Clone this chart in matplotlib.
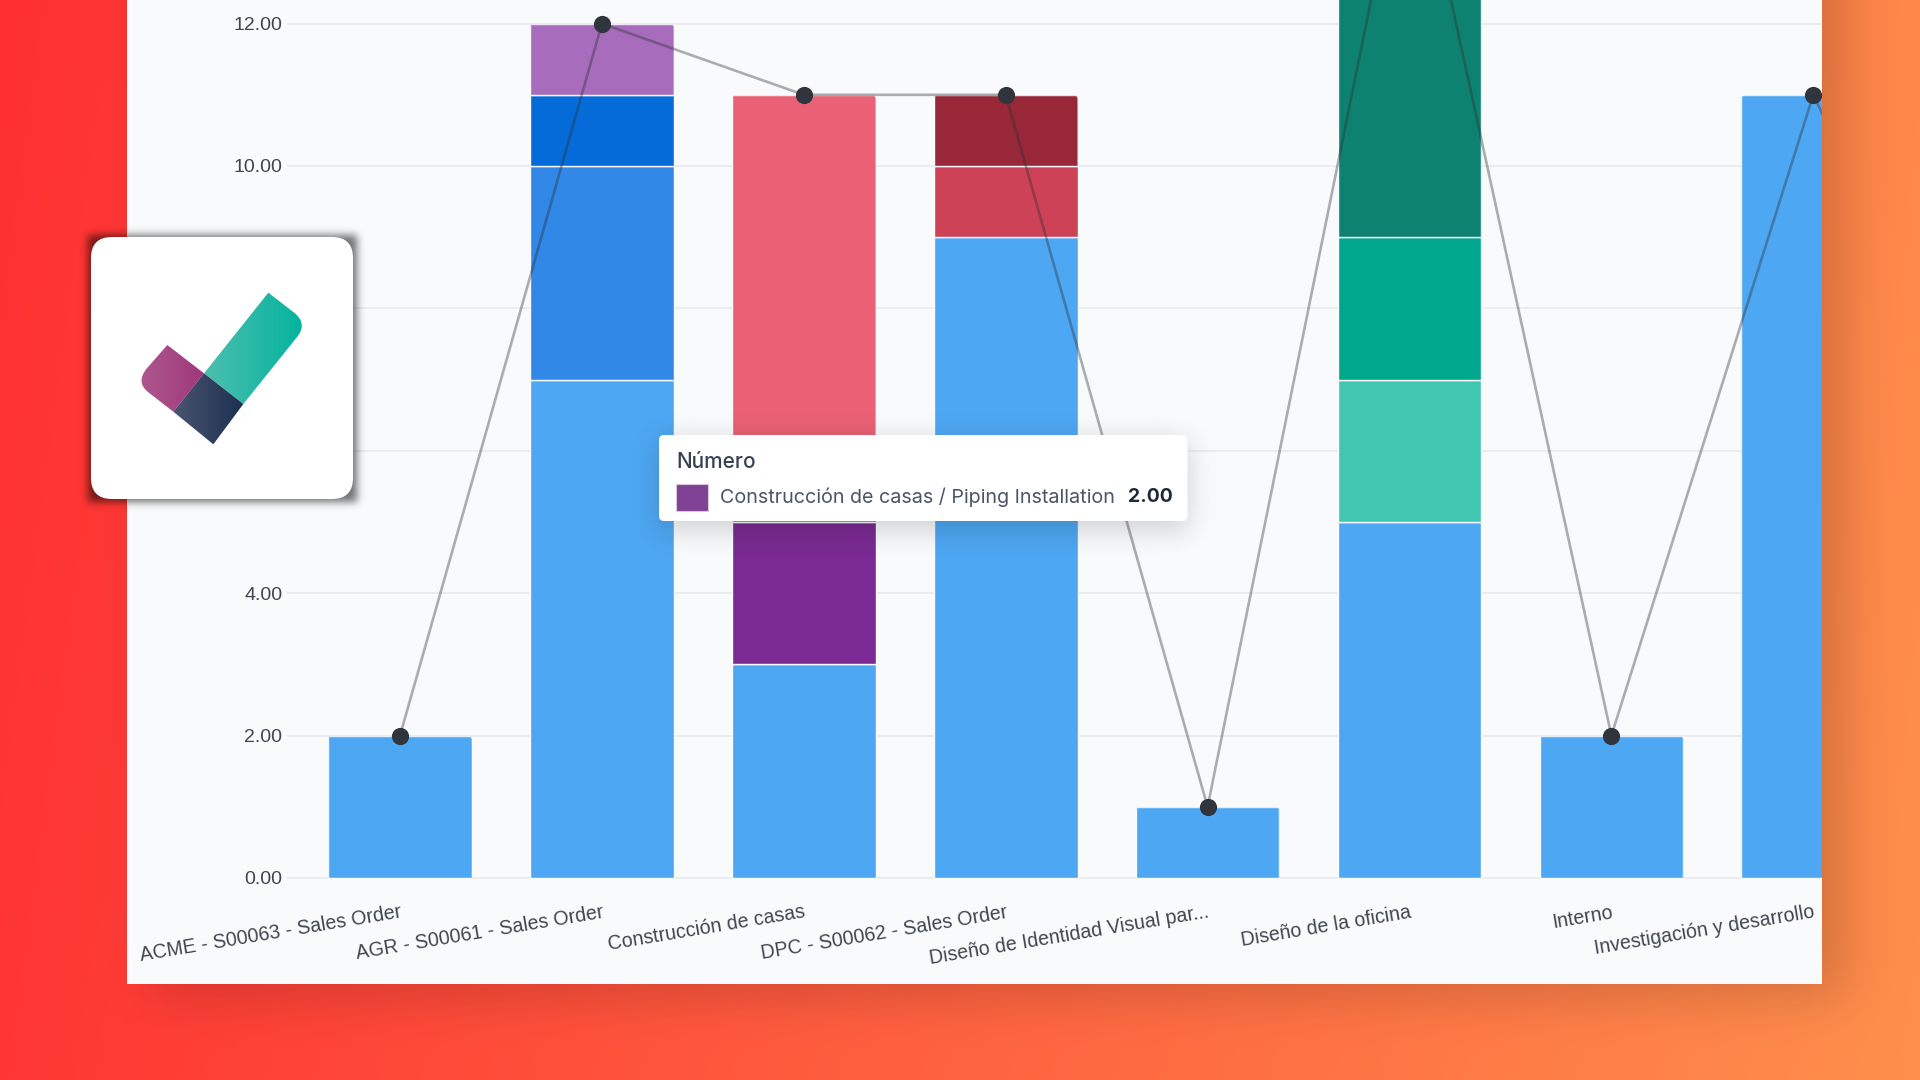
import math
import numpy as np
import matplotlib
matplotlib.use('Agg')
import matplotlib.pyplot as plt
from matplotlib.patches import FancyBboxPatch, Polygon, Rectangle
from matplotlib.path import Path
from matplotlib.patches import PathPatch

# --- data ---
categories = ['ACME - S00063 - Sales Order', 'AGR - S00061 - Sales Order', 'Construcción de casas',
              'DPC - S00062 - Sales Order', 'Diseño de Identidad Visual par...', 'Diseño de la oficina',
              'Interno', 'Investigación y desarrollo']
acme_values = [2]
agr_values = [7, 3, 1, 1]
casas_values = [3, 2, 6]
dpc_values = [9, 1, 1]
visual_values = [1]
oficina_values = [5, 2, 2, 6]
interno_values = [2]
investigacion_values = [11]
stacks = [acme_values, agr_values, casas_values, dpc_values, visual_values, oficina_values,
          interno_values, investigacion_values]
# last point belongs to a category cut off by the right edge of the panel
line_values = [2, 12, 11, 11, 1, 15, 2, 11, 5]
y_ticks = [0, 2, 4, 6, 8, 10, 12]

BLUE = ['#4EA7F2', '#3188E6', '#056BD9', '#A76DBC']
MAGENTA = ['#4EA7F2', '#7A2A92', '#EA6175']
RED = ['#4EA7F2', '#CE4257', '#982738']
GREEN = ['#4EA7F2', '#43C6B1', '#00A78D', '#0E8270']
stack_colors = [BLUE, BLUE, MAGENTA, RED, BLUE, GREEN, BLUE, BLUE]

W, H = 1920, 1080
PANEL = (127, 1822, 984)  # left, right, bottom in pixels
X0, X_STEP = 400, 201.9
Y0, Y_STEP = 878, 71.2
PANEL_COLOR = '#F9FAFC'
plt.rcParams['font.family'] = ['Liberation Sans', 'DejaVu Sans']


def erf_profile(coords, a, b, sigma):
    # analytic blur of a box along one axis
    erf = np.vectorize(math.erf)
    return 0.5 * (erf((coords - a) / (sigma * 2 ** 0.5)) - erf((coords - b) / (sigma * 2 ** 0.5)))


def box_shadow(x0, y0, x1, y1, sigma):
    xs, ys = np.arange(W) + 0.5, np.arange(H) + 0.5
    return np.outer(erf_profile(ys, y0, y1, sigma), erf_profile(xs, x0, x1, sigma))


def shadow_rgba(x0, y0, x1, y1, sigma, strength):
    img = np.zeros((H, W, 4))
    img[..., 3] = box_shadow(x0, y0, x1, y1, sigma) * strength
    return img


fig = plt.figure(figsize=(W / 100, H / 100), dpi=100)

# --- background gradient with the shadow of the panel ---
bg_ax = fig.add_axes([0, 0, 1, 1], zorder=0)
xx, yy = np.meshgrid(np.linspace(0, 1, W), np.linspace(0, 1, H))
t = np.clip((0.93 * xx + 0.07 * yy)[..., None], 0, 1)
start, end = np.array([255, 48, 50]) / 255, np.array([255, 143, 76]) / 255
bg = start * (1 - t) + end * t
panel_shade = box_shadow(PANEL[0] + 25, -200, PANEL[1] + 22, PANEL[2] + 12, 26) * 0.17
bg_ax.imshow(bg * (1 - panel_shade[..., None]), extent=(0, W, H, 0), aspect='auto')
bg_ax.add_patch(Rectangle((PANEL[0], -5), PANEL[1] - PANEL[0], PANEL[2] + 5, fc=PANEL_COLOR, ec='none'))
bg_ax.set_xlim(0, W)
bg_ax.set_ylim(H, 0)
bg_ax.axis('off')

# --- the chart itself ---
left, right, bottom = 287, PANEL[1], 888
ax = fig.add_axes([left / W, (H - bottom) / H, (right - left) / W, bottom / H], zorder=1)
ax.patch.set_alpha(0)
ax.set_xlim((left - X0) / X_STEP, (right - X0) / X_STEP)
ax.set_ylim((Y0 - bottom) / Y_STEP, Y0 / Y_STEP)
ax.grid(axis='y', color='#E6E8EC', linewidth=1.1)
ax.set_axisbelow(True)
for side in ax.spines.values():
    side.set_visible(False)

for i, (values, colors) in enumerate(zip(stacks, stack_colors)):
    base = 0
    for value, color in zip(values, colors):
        bar = ax.bar(i, value, bottom=base, width=0.712, color=color, edgecolor=PANEL_COLOR, linewidth=1.0)[0]
        base += value
    # small rounded corners at the top of each stack
    clip = FancyBboxPatch((i - 0.356, -1), 0.712, base + 0.99, boxstyle='round,pad=0,rounding_size=0.018',
                          mutation_aspect=X_STEP / Y_STEP, transform=ax.transData)
    bar.set_clip_path(clip)

ax.plot(range(len(line_values)), line_values, color='#2B2F36', alpha=0.38, linewidth=1.9, zorder=4)
ax.plot(range(len(line_values)), line_values, linestyle='none', marker='o', markersize=12.4,
        markerfacecolor='#2F343D', markeredgecolor='none', zorder=5)

ax.set_yticks(y_ticks)
ax.set_yticklabels([f'{v:.2f}' for v in y_ticks])
ax.set_xticks(range(len(categories)))
ax.set_xticklabels(categories)
ax.tick_params(axis='y', length=0, pad=3.5, labelsize=14, labelcolor='#40464F')
ax.tick_params(axis='x', length=0, pad=10.5, labelsize=14.15, labelcolor='#40464F')
plt.setp(ax.get_xticklabels(), rotation=9.5, ha='right', va='top', rotation_mode='anchor')

# --- tooltip and logo card on top ---
top = fig.add_axes([0, 0, 1, 1], zorder=2)
top.patch.set_alpha(0)
top.imshow(shadow_rgba(659, 441, 1188, 530, 14, 0.17), extent=(0, W, H, 0), aspect='auto', zorder=1)
top.imshow(shadow_rgba(88, 235, 357, 502, 4, 0.55), extent=(0, W, H, 0), aspect='auto', zorder=1)

tip = FancyBboxPatch((659, 435), 528.5, 86, boxstyle='round,pad=0,rounding_size=5', fc='white', ec='none', zorder=2)
top.add_patch(tip)
top.text(676, 462, 'Número', family='Inter', fontsize=15, fontweight='medium', color='#374151', va='center', zorder=3)
top.add_patch(Rectangle((676, 484), 32, 27, fc='#7F4295', ec='#D9C6E0', lw=0.8, zorder=3))
top.text(720, 497.5, 'Construcción de casas / Piping Installation', family='Inter', fontsize=14.2,
         color='#4B5563', va='center', zorder=3)
top.text(1173, 497.5, '2.00', family='Inter', fontsize=14, fontweight='bold', color='#1F2937',
         va='center', ha='right', zorder=3)

card = FancyBboxPatch((91, 237), 262, 262, boxstyle='round,pad=0,rounding_size=21', fc='white', ec='none', zorder=2)
top.add_patch(card)


def gradient_shape(points, c0, c1, rounded=None):
    # polygon filled with a left to right gradient, drawn in pixel coordinates
    xs = [p[0] for p in points]
    ys = [p[1] for p in points]
    grad = np.linspace(0, 1, 64)[None, :, None]
    img = np.array(matplotlib.colors.to_rgb(c0)) * (1 - grad) + np.array(matplotlib.colors.to_rgb(c1)) * grad
    im = top.imshow(img, extent=(min(xs), max(xs), max(ys), min(ys)), aspect='auto', zorder=3, interpolation='bilinear')
    if rounded is None:
        clip = Polygon(points, closed=True, transform=top.transData)
    else:
        clip = PathPatch(Path(rounded[0], rounded[1]), transform=top.transData)
    im.set_clip_path(clip)


def logo_pt(zx, zy):
    # logo outline was measured on a 3x crop starting at (60, 200)
    return (60 + zx / 3, 200 + zy / 3)


P = Path
teal_pts = [logo_pt(625, 278), logo_pt(705, 340), logo_pt(742, 372), logo_pt(712, 410), logo_pt(550, 612),
            logo_pt(432, 520), logo_pt(625, 278)]
teal_codes = [P.MOVETO, P.LINETO, P.CURVE3, P.CURVE3, P.LINETO, P.LINETO, P.CLOSEPOLY]
gradient_shape(teal_pts, '#4DBFAE', '#00B39D', rounded=(teal_pts, teal_codes))
purple_pts = [logo_pt(322, 435), logo_pt(432, 520), logo_pt(340, 635), logo_pt(265, 577), logo_pt(228, 548),
              logo_pt(258, 508), logo_pt(322, 435)]
purple_codes = [P.MOVETO, P.LINETO, P.LINETO, P.LINETO, P.CURVE3, P.CURVE3, P.CLOSEPOLY]
gradient_shape(purple_pts, '#AE5A8E', '#A0377B', rounded=(purple_pts, purple_codes))
gradient_shape([logo_pt(432, 520), logo_pt(550, 612), logo_pt(460, 733), logo_pt(340, 635)], '#4A5470', '#1B3050')

top.set_xlim(0, W)
top.set_ylim(H, 0)
top.axis('off')

fig.savefig('out.png', dpi=100)
